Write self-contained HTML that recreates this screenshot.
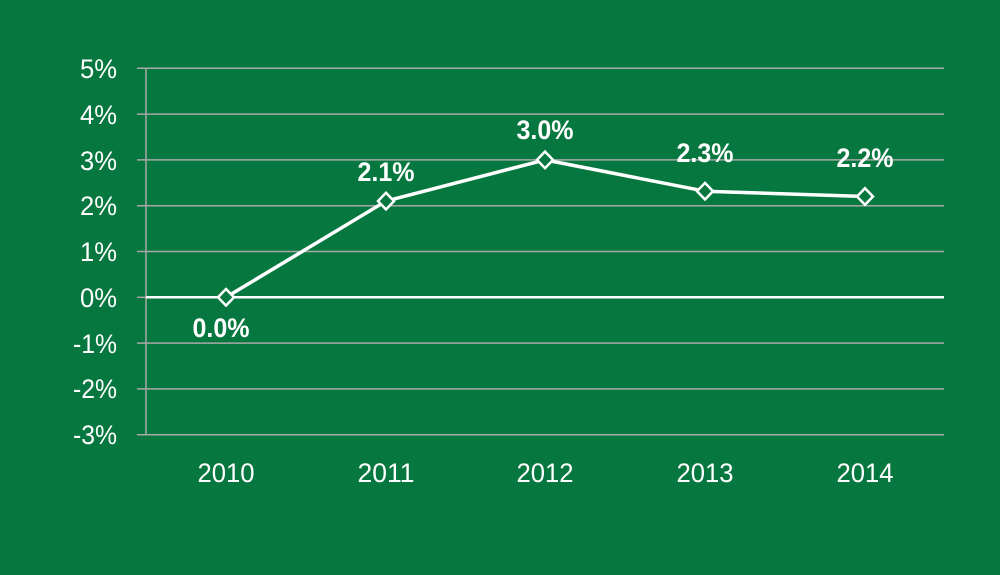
<!DOCTYPE html>
<html><head><style>html,body{margin:0;padding:0;background:#06773f;}svg{display:block}</style></head>
<body>
<svg width="1000" height="575" xmlns="http://www.w3.org/2000/svg" font-family="Liberation Sans, Arial, sans-serif">
<rect width="1000" height="575" fill="#06773f"/>
<g stroke="#a8a8a8" stroke-width="1.5">
<line x1="137" y1="68.3" x2="944" y2="68.3"/>
<line x1="137" y1="114.1" x2="944" y2="114.1"/>
<line x1="137" y1="159.9" x2="944" y2="159.9"/>
<line x1="137" y1="205.7" x2="944" y2="205.7"/>
<line x1="137" y1="251.5" x2="944" y2="251.5"/>
<line x1="137" y1="343.1" x2="944" y2="343.1"/>
<line x1="137" y1="388.9" x2="944" y2="388.9"/>
<line x1="137" y1="434.7" x2="944" y2="434.7"/>
<line x1="146" y1="68" x2="146" y2="435"/>
<line x1="137" y1="297.3" x2="146" y2="297.3"/>
</g>
<line x1="146" y1="297.3" x2="944" y2="297.3" stroke="#fff" stroke-width="2.5"/>
<g fill="#fff" font-size="27" text-anchor="end" lengthAdjust="spacingAndGlyphs">
<text x="117" y="78" textLength="37" lengthAdjust="spacingAndGlyphs">5%</text>
<text x="117" y="124" textLength="37" lengthAdjust="spacingAndGlyphs">4%</text>
<text x="117" y="170" textLength="37" lengthAdjust="spacingAndGlyphs">3%</text>
<text x="117" y="215" textLength="37" lengthAdjust="spacingAndGlyphs">2%</text>
<text x="117" y="261" textLength="37" lengthAdjust="spacingAndGlyphs">1%</text>
<text x="117" y="307" textLength="37" lengthAdjust="spacingAndGlyphs">0%</text>
<text x="117" y="353" textLength="44" lengthAdjust="spacingAndGlyphs">-1%</text>
<text x="117" y="398" textLength="44" lengthAdjust="spacingAndGlyphs">-2%</text>
<text x="117" y="444" textLength="44" lengthAdjust="spacingAndGlyphs">-3%</text>
</g>
<g fill="#fff" font-size="27" text-anchor="middle">
<text x="226" y="482" textLength="57" lengthAdjust="spacingAndGlyphs">2010</text>
<text x="386" y="482" textLength="57" lengthAdjust="spacingAndGlyphs">2011</text>
<text x="545" y="482" textLength="57" lengthAdjust="spacingAndGlyphs">2012</text>
<text x="705" y="482" textLength="57" lengthAdjust="spacingAndGlyphs">2013</text>
<text x="865" y="482" textLength="57" lengthAdjust="spacingAndGlyphs">2014</text>
</g>
<polyline points="226,297.3 386,201.1 545,159.9 705,191.2 865,196.5" fill="none" stroke="#fff" stroke-width="3.5" stroke-linejoin="round"/>
<g fill="#06773f" stroke="#fff" stroke-width="2.5">
<path d="M226 289l8 8.3-8 8.3-8-8.3z"/>
<path d="M386 192.8l8 8.3-8 8.3-8-8.3z"/>
<path d="M545 151.6l8 8.3-8 8.3-8-8.3z"/>
<path d="M705 182.9l8 8.3-8 8.3-8-8.3z"/>
<path d="M865 188.2l8 8.3-8 8.3-8-8.3z"/>
</g>
<g fill="#fff" font-size="27" font-weight="bold" text-anchor="middle">
<text x="221" y="337" textLength="57" lengthAdjust="spacingAndGlyphs">0.0%</text>
<text x="386" y="181" textLength="57" lengthAdjust="spacingAndGlyphs">2.1%</text>
<text x="545" y="139" textLength="57" lengthAdjust="spacingAndGlyphs">3.0%</text>
<text x="705" y="162" textLength="57" lengthAdjust="spacingAndGlyphs">2.3%</text>
<text x="865" y="167" textLength="57" lengthAdjust="spacingAndGlyphs">2.2%</text>
</g>
</svg>
</body></html>
